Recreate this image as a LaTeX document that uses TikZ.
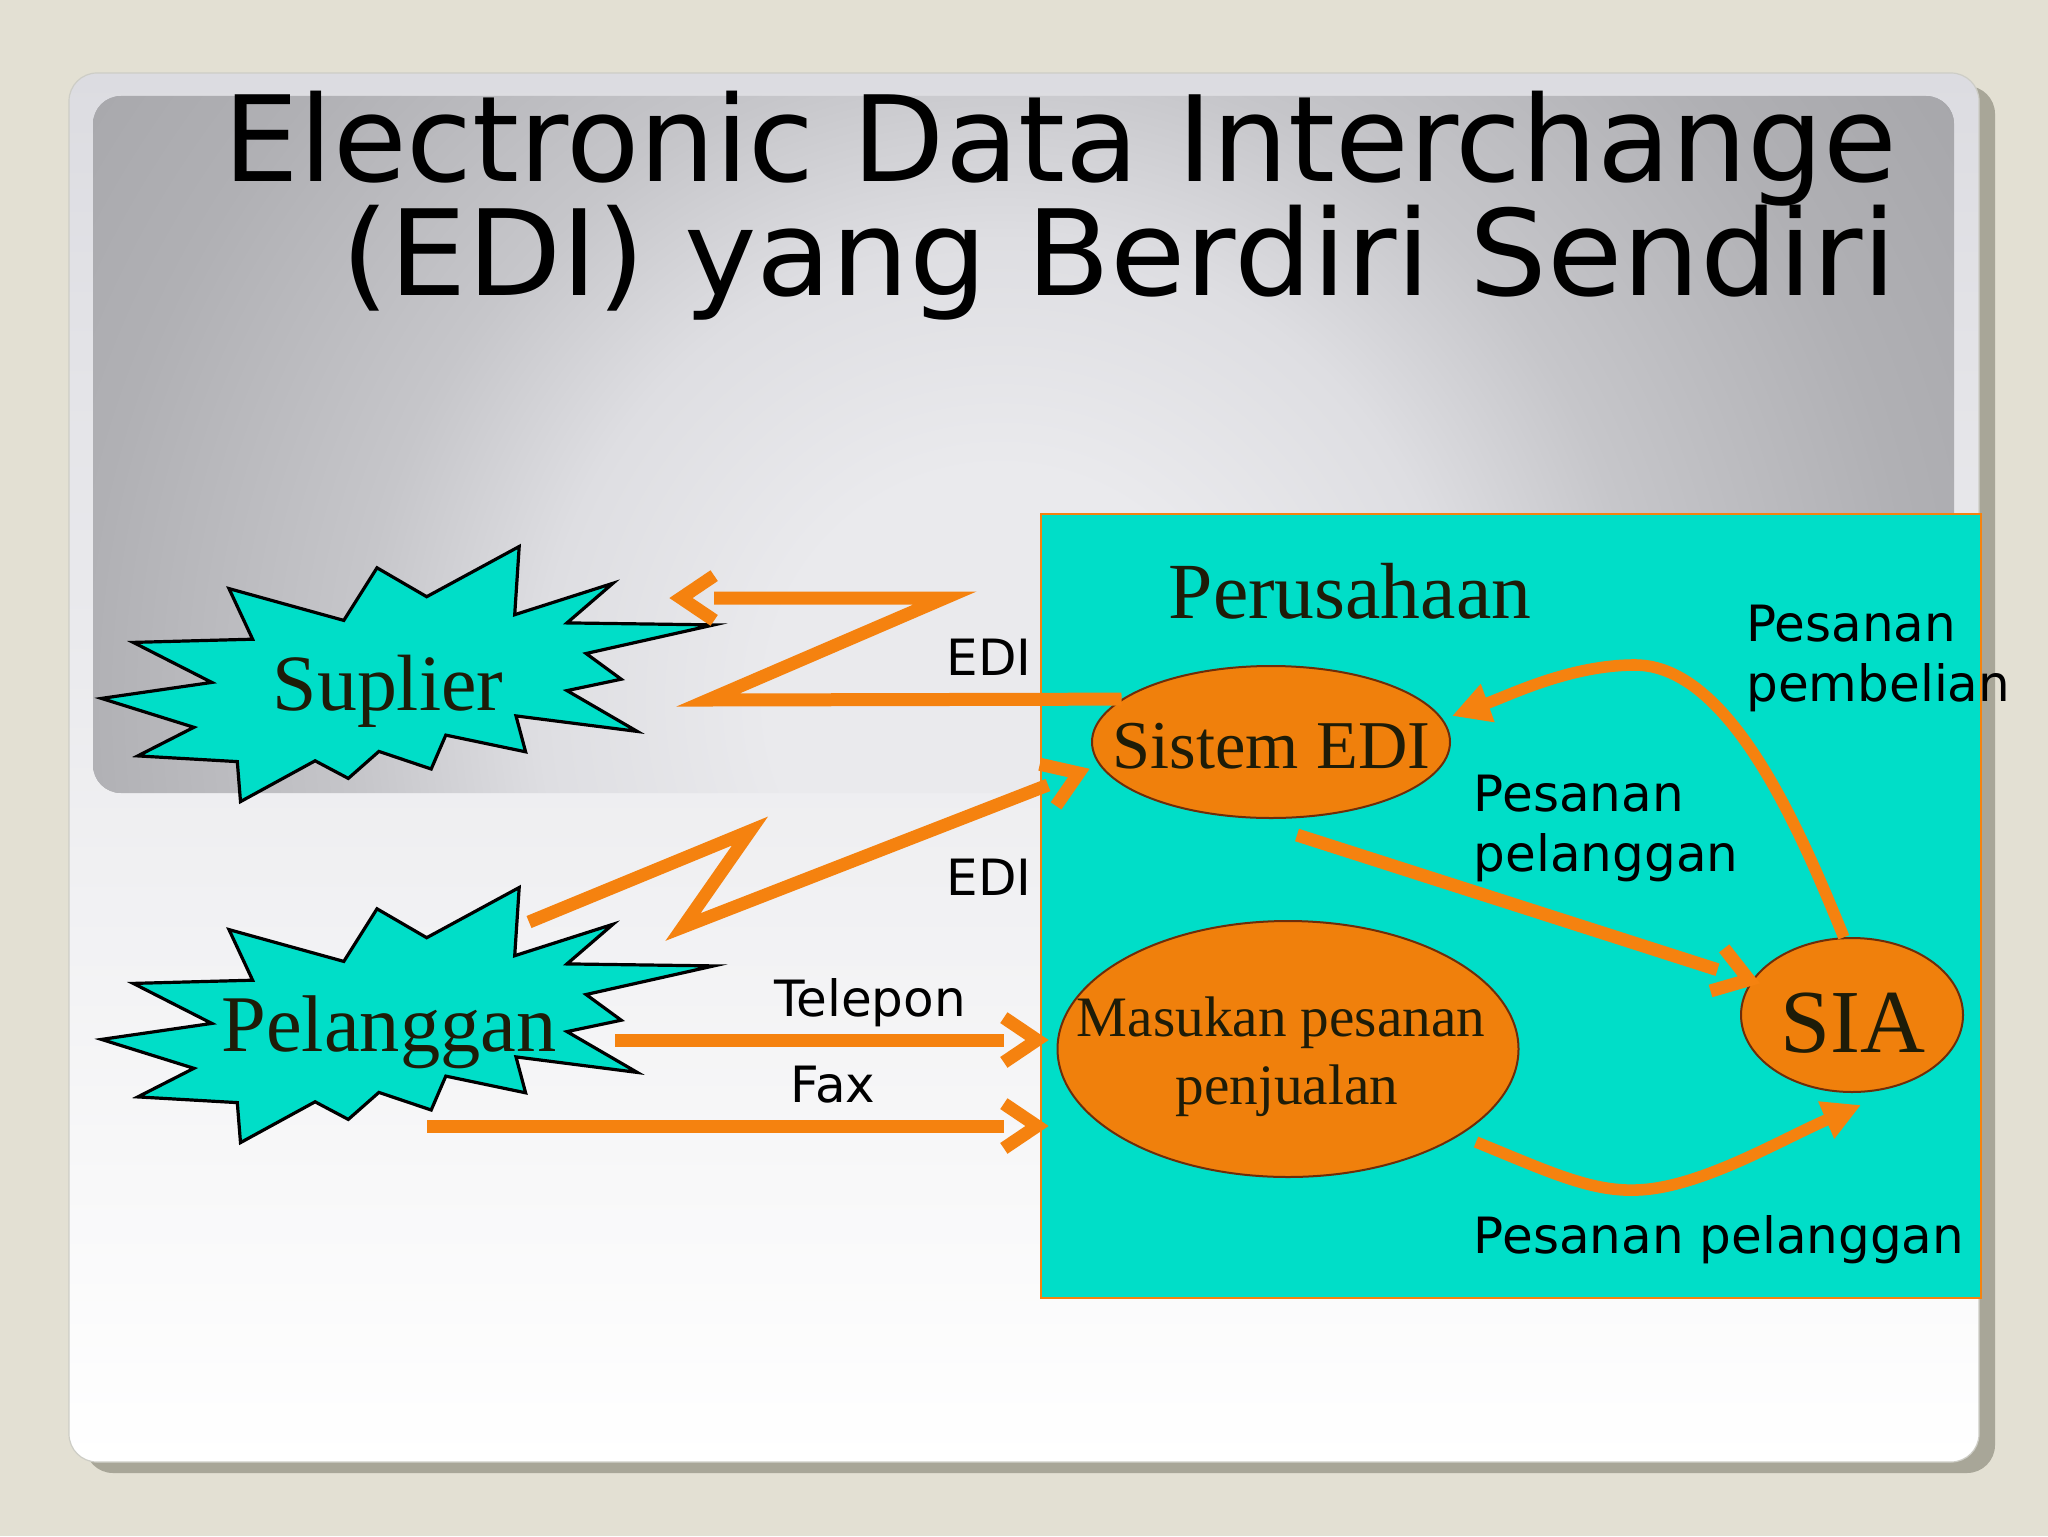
\documentclass[tikz,border=0pt]{standalone}
\usepackage{fontspec}
\setmainfont{Liberation Serif}
\newfontfamily\dejavu{DejaVu Sans}
\usetikzlibrary{shapes.geometric,arrows.meta}
\definecolor{bgbeige}{RGB}{227,224,211}
\definecolor{slideshadow}{RGB}{168,166,152}
\definecolor{slidetop}{RGB}{220,220,225}
\definecolor{slidemid}{RGB}{237,237,241}
\definecolor{slideedge}{RGB}{205,205,198}
\definecolor{pA}{RGB}{234,234,237}
\definecolor{pB}{RGB}{222,222,226}
\definecolor{pC}{RGB}{198,198,202}
\definecolor{pE}{RGB}{176,176,180}
\definecolor{pD}{RGB}{166,166,170}
\definecolor{orng}{RGB}{245,130,15}
\definecolor{ellfill}{RGB}{240,128,12}
\definecolor{elledge}{RGB}{110,45,10}
\definecolor{cyanbox}{RGB}{0,222,200}
\definecolor{darktext}{RGB}{30,28,8}
\pgfdeclareradialshading{panelshade}{\pgfpoint{0bp}{0bp}}{color(0bp)=(pA); color(5bp)=(pA); color(10bp)=(pB); color(14bp)=(pC); color(20bp)=(pE); color(25bp)=(pD); color(50bp)=(pD)}
\newcommand\chevr[2]{\draw[chevst] (#1) ++(#2+146:40) -- (#1) -- ++(#2+214:40);}
\begin{document}
\begin{tikzpicture}[x=0.5pt,y=-0.5pt,
  oline/.style={draw=orng, line width=6.5pt, line join=miter},
  chevst/.style={draw=orng, line width=6.5pt, line join=miter},
  carrow/.style={draw=orng, line width=5.8pt, -{Triangle[length=19pt,width=19pt]}},
  burstst/.style={fill=cyanbox, draw=black, line width=1.6pt, line join=miter},
  ellst/.style={ellipse, fill=ellfill, draw=elledge, line width=1pt, inner sep=0pt},
  serif/.style={inner sep=0pt, text=darktext, anchor=base},
  sans/.style={inner sep=0pt, text=black, font=\dejavu\fontsize{25}{30}\selectfont},
  ttl/.style={inner sep=0pt, anchor=base east, font=\dejavu\fontsize{59.5}{70}\selectfont},
  burst/.pic={\draw[burstst] (101.5,698.4) -- (211.8,682.4) -- (133.3,642.4) -- (252.6,639.2) -- (229.0,588.6) -- (343.8,620.4) -- (377.0,567.8) -- (426.7,596.7) -- (519.2,546.5) -- (514.7,614.7) -- (612.9,583.3) -- (567.0,622.9) -- (713.7,624.9) -- (586.1,653.5) -- (621.2,679.2) -- (567.0,690.6) -- (637.2,731.4) -- (516.0,715.9) -- (525.6,751.8) -- (445.8,735.1) -- (431.2,769.0) -- (378.9,751.4) -- (348.3,778.4) -- (315.1,760.8) -- (240.5,801.6) -- (237.3,761.6) -- (137.8,755.9) -- (193.9,727.3) -- cycle;}
]
\useasboundingbox (0,0) rectangle (2048,1536);
% background and slide
\fill[bgbeige] (0,0) rectangle (2048,1536);
\fill[slideshadow, rounded corners=14pt] (85,86) rectangle (1995,1473);
\shadedraw[top color=slidetop, middle color=slidemid, bottom color=white, draw=slideedge, line width=0.6pt, rounded corners=14pt] (69,73) rectangle (1979,1462);
% gray title panel
\begin{scope}
  \clip[rounded corners=14pt] (93,96) rectangle (1954,793);
  \fill[pD] (93,96) rectangle (1954,793);
  \shade[shading=panelshade] (1000,700) circle (1150);
\end{scope}
% title
\node[ttl] (t1) at (1897,181) {\scalebox{1.007}[1]{Electronic Data Interchange}};
\node[ttl] (t2) at (1897,295) {\scalebox{1.03}[1]{(EDI) yang Berdiri Sendiri}};
% bursts
\pic at (0,0) {burst};
\pic at (0,341) {burst};
\node[serif, font=\fontsize{39.9}{46}\selectfont] (sup) at (388,710) {Suplier};
\node[serif, font=\fontsize{40.2}{46}\selectfont] (pel) at (389,1051) {Pelanggan};
% company box
\node[draw=orng, fill=cyanbox, line width=1.2pt, minimum width=470pt, minimum height=392pt, anchor=north west, inner sep=0pt] (box) at (1040,513) {};
\node[serif, font=\fontsize{39.8}{46}\selectfont] (per) at (1350,618) {Perusahaan};
% ellipses
\node[ellst, minimum width=179pt, minimum height=76pt] (edi) at (1271,742) {};
\node[ellst, minimum width=230.5pt, minimum height=128pt] (mas) at (1288,1049) {};
\node[ellst, minimum width=111pt, minimum height=77pt] (sia) at (1852,1015) {};
\node[serif, font=\fontsize{34.2}{40}\selectfont] (ediT) at (1271.5,768) {Sistem EDI};
\node[serif, font=\fontsize{28.6}{34}\selectfont] (masT1) at (1281,1036) {Masukan pesanan};
\node[serif, font=\fontsize{28.6}{34}\selectfont] (masT2) at (1287,1104) {penjualan};
\node[serif, font=\fontsize{45}{52}\selectfont] (siaT) at (1853,1052) {SIA};
% coordinates
\coordinate (zs1) at (708,700);
\coordinate (zs2) at (945,598);
\coordinate (zs3) at (714,598);
\coordinate (zsT) at (681,598);
\coordinate (zp0) at (529,922);
\coordinate (zp1) at (750,831);
\coordinate (zp2) at (683,927);
\coordinate (zp3) at (1048,785);
\coordinate (zpT) at (1078.8,773);
\coordinate (tel0) at (615,1040);
\coordinate (tel1) at (1004,1040);
\coordinate (telT) at (1037,1040);
\coordinate (fax0) at (427,1126);
\coordinate (fax1) at (1004,1126);
\coordinate (faxT) at (1037,1126);
\coordinate (s0) at (1297,835);
\coordinate (s1) at (1717.5,969.7);
\coordinate (sT) at (1748.9,979.8);
\coordinate (aTip) at (1452,716);
\coordinate (bStart) at (1476,1142);
\coordinate (bTip) at (1861,1105);
% connectors
\draw[oline] (edi.164) -- (zs1) -- (zs2) -- (zs3);
\chevr{zsT}{180}
\draw[oline] (zp0) -- (zp1) -- (zp2) -- (zp3);
\chevr{zpT}{-21.3}
\draw[oline] (tel0) -- (tel1);
\chevr{telT}{0}
\draw[oline] (fax0) -- (fax1);
\chevr{faxT}{0}
\draw[oline] (s0) -- (s1);
\chevr{sT}{17.8}
\draw[carrow] (sia.96) .. controls (1800,830) and (1730,665) .. (1635,665) .. controls (1570,665) and (1510,695) .. (aTip);
\draw[carrow] (bStart) .. controls (1545,1170) and (1590,1192) .. (1637,1190) .. controls (1700,1188) and (1780,1140) .. (bTip);
% labels
\node[sans, anchor=base east] (edi1) at (1032,675) {EDI};
\node[sans, anchor=base east] (edi2) at (1032,895) {EDI};
\node[sans, anchor=base] (tel) at (870,1016) {Telepon};
\node[sans, anchor=base] (fax) at (833,1102) {Fax};
\node[sans, anchor=base west] (pp1) at (1746,641) {Pesanan};
\node[sans, anchor=base west] (pp2) at (1746,701) {pembelian};
\node[sans, anchor=base west] (pl1) at (1473.5,811) {Pesanan};
\node[sans, anchor=base west] (pl2) at (1473.5,871) {pelanggan};
\node[sans, anchor=base west] (pl3) at (1473.5,1253) {Pesanan pelanggan};
\end{tikzpicture}
\end{document}
